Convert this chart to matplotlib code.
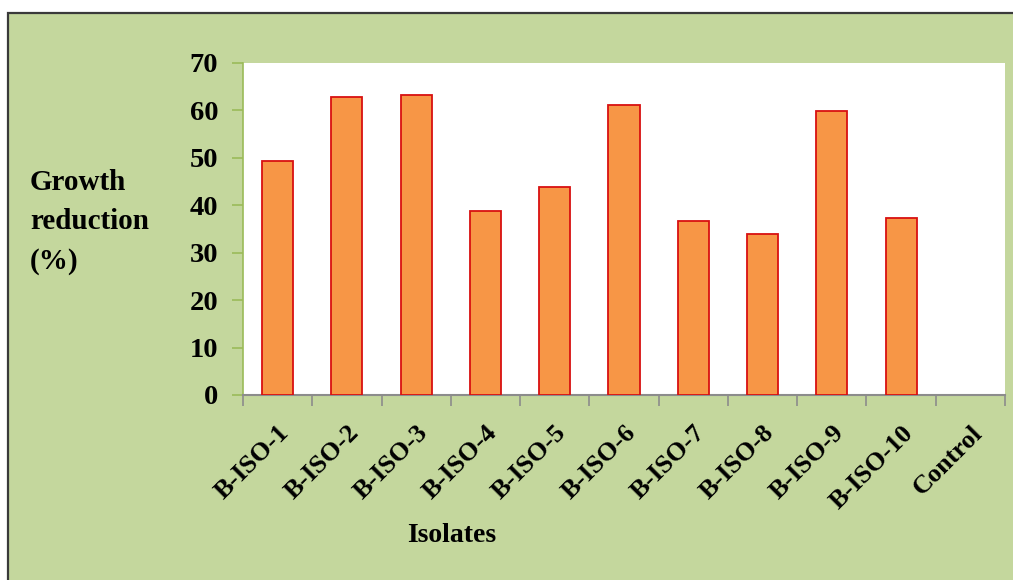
import numpy as np
import matplotlib.pyplot as plt
from matplotlib.patches import Rectangle

isolates = ['B-ISO-1', 'B-ISO-2', 'B-ISO-3', 'B-ISO-4', 'B-ISO-5', 'B-ISO-6',
            'B-ISO-7', 'B-ISO-8', 'B-ISO-9', 'B-ISO-10', 'Control']
reduction = [49.3, 62.9, 63.3, 38.7, 43.8, 61.2, 36.6, 34.0, 59.9, 37.4, 0]
yticks = [0, 10, 20, 30, 40, 50, 60, 70]

plt.rcParams['font.family'] = 'Liberation Serif'
plt.rcParams['font.weight'] = 'bold'

green = '#c4d79d'
fig = plt.figure(figsize=(10.13, 5.80), dpi=100)
fig.patch.set_facecolor('white')
# green panel with dark border, running off right and bottom edges
fig.patches.append(Rectangle((8 / 1013, -0.05), 1.05, 1 - 13 / 580 + 0.05,
                             transform=fig.transFigure, facecolor=green,
                             edgecolor='#3a3a3a', lw=1.6, zorder=-1))

ax = fig.add_axes([243 / 1013, 1 - 395 / 580, 762 / 1013, 332 / 580])
ax.set_facecolor('white')

x = np.arange(len(isolates))
edges = ['#d81010' if v > 0 else 'none' for v in reduction]
ax.bar(x, reduction, width=0.45, color='#f79646', edgecolor=edges, lw=1.3, zorder=3)

ax.set_xlim(-0.5, len(isolates) - 0.5)
ax.set_ylim(0, 70)
ax.set_yticks(yticks)
ax.set_yticklabels([str(v) for v in yticks], fontsize=20.5, fontweight='bold')
ax.set_xticks(x)
ax.set_xticklabels(isolates, rotation=45, ha='right', rotation_mode='anchor',
                   fontsize=19, fontweight='bold')
ax.tick_params(axis='x', length=0, pad=19)
ax.set_xticks(np.arange(-0.5, len(isolates)), minor=True)
ax.tick_params(axis='x', which='minor', length=8, color='#8c8c8c', width=1.2)
ax.tick_params(axis='y', length=8, color='#9bbb59', width=1.2, pad=10)

for s in ['top', 'right']:
    ax.spines[s].set_visible(False)
ax.spines['left'].set_color('#9bbb59')
ax.spines['left'].set_linewidth(1.2)
ax.spines['bottom'].set_color('#8c8c8c')
ax.spines['bottom'].set_linewidth(1.5)

fig.text(30 / 1013, 1 - 222 / 580, 'Growth\nreduction\n(%)', fontsize=21,
         fontweight='bold', va='center', ha='left', linespacing=1.6)
fig.text(452 / 1013, 1 - 535 / 580, 'Isolates', fontsize=20, fontweight='bold',
         ha='center', va='center')

plt.savefig('out.png', dpi=100, facecolor=fig.get_facecolor())
